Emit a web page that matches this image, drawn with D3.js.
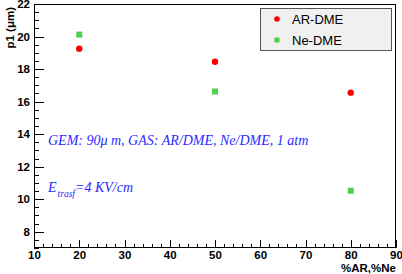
<!DOCTYPE html>
<html>
<head>
<meta charset="utf-8">
<script src="https://cdn.jsdelivr.net/npm/d3@7"></script>
<style>
  body { margin: 0; background: #fff; }
  svg { display: block; }
  .tick text { font-family: "Liberation Sans", Arial, sans-serif; font-weight: bold; font-size: 11.5px; fill: #000; }
</style>
</head>
<body>
<div id="chart"></div>
<script>
// --- Data ---
const xValues = [20, 50, 80];
const arDme = [19.25, 18.45, 16.55];
const neDme = [20.12, 16.62, 10.52];
const yTicks = [8, 10, 12, 14, 16, 18, 20, 22];
const xTicks = [10, 20, 30, 40, 50, 60, 70, 80, 90];

const width = 402, height = 274;
const m = { left: 34, top: 4, right: 6, bottom: 26 };

const svg = d3.select('#chart').append('svg').attr('width', width).attr('height', height);

const x = d3.scaleLinear().domain([10, 90]).range([m.left, width - m.right]);
const y = d3.scaleLinear().domain([7, 22]).range([height - m.bottom, m.top]);

// minor ticks
const g = svg.append('g');
g.selectAll('line.ym')
  .data(d3.range(7, 22.01, 0.5))
  .join('line')
  .attr('x1', m.left).attr('x2', d => m.left + (d % 2 === 0 ? 10 : 5))
  .attr('y1', d => Math.round(y(d)) + 0.5).attr('y2', d => Math.round(y(d)) + 0.5)
  .attr('stroke', '#000');
g.selectAll('line.xm')
  .data(d3.range(10, 90.01, 2))
  .join('line')
  .attr('x1', d => Math.round(x(d)) + 0.5).attr('x2', d => Math.round(x(d)) + 0.5)
  .attr('y1', height - m.bottom).attr('y2', d => height - m.bottom - (d % 10 === 0 ? 8 : 4))
  .attr('stroke', '#000');

// axes (labels only, ticks drawn above)
const yAxis = svg.append('g').attr('transform', `translate(${m.left},0)`)
  .call(d3.axisLeft(y).tickValues(yTicks).tickSize(0).tickPadding(4));
yAxis.select('.domain').remove();
const xAxis = svg.append('g').attr('transform', `translate(0,${height - m.bottom})`)
  .call(d3.axisBottom(x).tickValues(xTicks).tickSize(0).tickPadding(3));
xAxis.select('.domain').remove();

// frame
svg.append('rect')
  .attr('x', m.left + 0.5).attr('y', m.top + 0.5)
  .attr('width', width - m.left - m.right - 1).attr('height', height - m.top - m.bottom - 1)
  .attr('fill', 'none').attr('stroke', '#000');

// axis titles
svg.append('text')
  .attr('transform', `translate(14,${m.top + 3}) rotate(-90)`)
  .attr('text-anchor', 'end')
  .style('font-family', '"Liberation Sans", Arial, sans-serif')
  .style('font-weight', 'bold').style('font-size', '11.5px')
  .text('p1 (\u03bcm)');
svg.append('text')
  .attr('x', width - m.right).attr('y', 272)
  .attr('text-anchor', 'end')
  .style('font-family', '"Liberation Sans", Arial, sans-serif')
  .style('font-weight', 'bold').style('font-size', '11.5px')
  .text('%AR,%Ne');

// data points
svg.selectAll('circle.ar')
  .data(xValues.map((d, i) => [d, arDme[i]]))
  .join('circle')
  .attr('cx', d => x(d[0])).attr('cy', d => y(d[1])).attr('r', 3.2)
  .attr('fill', '#ff0000');
svg.selectAll('rect.ne')
  .data(xValues.map((d, i) => [d, neDme[i]]))
  .join('rect')
  .attr('x', d => x(d[0]) - 3).attr('y', d => y(d[1]) - 3)
  .attr('width', 6).attr('height', 6)
  .attr('fill', '#4fd04f');

// legend
const lg = svg.append('g');
lg.append('rect').attr('x', 260.5).attr('y', 8.5).attr('width', 131).attr('height', 42)
  .attr('fill', '#f0f0f0').attr('stroke', '#555');
lg.append('circle').attr('cx', 277).attr('cy', 19).attr('r', 2.8).attr('fill', '#ff0000');
lg.append('rect').attr('x', 274.5).attr('y', 37.5).attr('width', 5).attr('height', 5).attr('fill', '#4fd04f');
lg.selectAll('text')
  .data(['AR-DME', 'Ne-DME'])
  .join('text')
  .attr('x', 292).attr('y', (d, i) => 24 + i * 21)
  .style('font-family', '"Liberation Sans", Arial, sans-serif')
  .style('font-size', '13px').attr('fill', '#000')
  .text(d => d);

// annotations
const note = svg.append('g')
  .style('font-family', '"Liberation Serif", "Times New Roman", serif')
  .style('font-style', 'italic').attr('fill', '#2a2aff');
note.append('text').attr('x', 48).attr('y', 145).style('font-size', '14px')
  .text('GEM: 90\u03bc m, GAS: AR/DME, Ne/DME, 1 atm');
const et = note.append('text').attr('x', 48).attr('y', 192).style('font-size', '14px');
et.append('tspan').text('E');
et.append('tspan').attr('dx', 1).attr('dy', 5).style('font-size', '9.5px').text('trasf');
et.append('tspan').attr('dy', -5).text('=4 KV/cm');
</script>
</body>
</html>
